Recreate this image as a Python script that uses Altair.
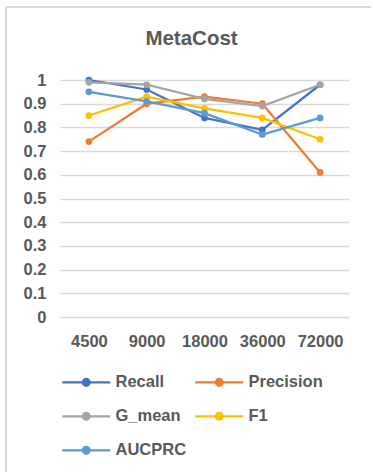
import altair as alt
import pandas as pd

sizes = ["4500", "9000", "18000", "36000", "72000"]
series = ["Recall", "Precision", "G_mean", "F1", "AUCPRC"]
recall = [1.00, 0.96, 0.84, 0.79, 0.98]
precision = [0.74, 0.90, 0.93, 0.90, 0.61]
g_mean = [0.99, 0.98, 0.92, 0.89, 0.98]
f1 = [0.85, 0.93, 0.88, 0.84, 0.75]
aucprc = [0.95, 0.91, 0.86, 0.77, 0.84]
colors = ["#4472C4", "#ED7D31", "#A5A5A5", "#FFC000", "#5B9BD5"]

values = [recall, precision, g_mean, f1, aucprc]
rows = []
for s, vals in zip(series, values):
    for x, v in zip(sizes, vals):
        rows.append({"size": x, "metric": s, "value": v})
df = pd.DataFrame(rows)

FONT = "Liberation Sans"
GRAY = "#595959"

legend_symbol = ("M-6,0H6M-0.85,0A0.85,0.85 0 1 1 0.85,0A0.85,0.85 0 1 1 -0.85,0Z")

lines = alt.Chart(df).mark_line(
    strokeWidth=2.25,
    point=alt.OverlayMarkDef(filled=True, size=45),
).encode(
    x=alt.X("size:N", sort=sizes, title=None,
            scale=alt.Scale(paddingOuter=0.5),
            axis=alt.Axis(labelAngle=0, labelFont=FONT, labelFontSize=16.5,
                          labelFontWeight="bold", labelColor=GRAY, labelPadding=16,
                          domain=False, ticks=False, grid=False)),
    y=alt.Y("value:Q", title=None,
            scale=alt.Scale(domain=[0, 1], nice=False),
            axis=alt.Axis(values=[0, 0.1, 0.2, 0.3, 0.4, 0.5, 0.6, 0.7, 0.8, 0.9, 1],
                          labelExpr="datum.value == 0 ? '0' : datum.value == 1 ? '1' : format(datum.value, '.1f')",
                          labelFont=FONT, labelFontSize=16.5, labelFontWeight="bold",
                          labelColor=GRAY, labelPadding=14, domain=False, ticks=False,
                          gridColor="#D9D9D9", gridWidth=1.5)),
    color=alt.Color("metric:N", sort=series,
                    scale=alt.Scale(domain=series, range=colors),
                    legend=alt.Legend(orient="none", legendX=18, legendY=294,
                                      columns=2, title=None, direction="horizontal",
                                      symbolType=legend_symbol, symbolSize=64,
                                      symbolStrokeWidth=2.25, symbolFillColor=None,
                                      labelOffset=21, columnPadding=3, rowPadding=17,
                                      labelFont=FONT, labelFontSize=16.5,
                                      labelFontWeight="bold", labelColor=GRAY)),
)

one = pd.DataFrame({"a": [0]})
frame_left = alt.Chart(one).mark_rule(color="#D9D9D9", strokeWidth=2).encode(
    x=alt.value(-54), y=alt.value(-73), y2=alt.value(392)
)
frame_top = alt.Chart(one).mark_rule(color="#D9D9D9", strokeWidth=2).encode(
    x=alt.value(-54), x2=alt.value(311), y=alt.value(-73)
)

chart = alt.layer(frame_left, frame_top, lines).properties(
    width=289, height=237,
    autosize=alt.AutoSizeParams(type="none"),
    padding={"left": 60, "top": 80, "right": 24, "bottom": 158},
    title=alt.TitleParams("MetaCost", font=FONT, fontSize=20.5, fontWeight="bold",
                          color=GRAY, frame="group", anchor="middle", dx=-13,
                          baseline="alphabetic", offset=-59),
).configure_view(stroke="transparent", strokeWidth=0)

chart.save("out.html", embed_options={"renderer": "svg", "actions": False})
